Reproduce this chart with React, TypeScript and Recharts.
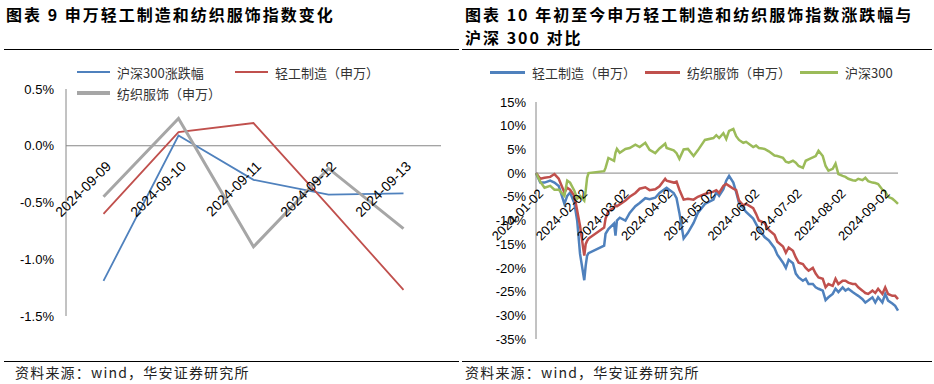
import { LineChart, Line, XAxis, YAxis, ReferenceLine } from 'recharts'

// 图表9：单周每日涨跌幅（%）
const weekDates = ['2024-09-09', '2024-09-10', '2024-09-11', '2024-09-12', '2024-09-13']
const weekHs300 = [-1.19, 0.09, -0.3, -0.43, -0.42]
const weekLight = [-0.6, 0.12, 0.2, -0.53, -1.27]
const weekTextile = [-0.45, 0.24, -0.89, -0.2, -0.73]
const weekYTicks = [-1.5, -1, -0.5, 0, 0.5]

// 图表10：年初至今累计涨跌幅（%）
const ytdDates = [
  '2024-01-02', '2024-01-05', '2024-01-08', '2024-01-12', '2024-01-15', '2024-01-18', '2024-01-22', '2024-01-24', '2024-01-26', '2024-01-29',
  '2024-01-31', '2024-02-02', '2024-02-05', '2024-02-06', '2024-02-07', '2024-02-08', '2024-02-19', '2024-02-20', '2024-02-22', '2024-02-26',
  '2024-02-27', '2024-02-28', '2024-03-01', '2024-03-05', '2024-03-08', '2024-03-12', '2024-03-15', '2024-03-19', '2024-03-22', '2024-03-26',
  '2024-03-29', '2024-04-02', '2024-04-03', '2024-04-08', '2024-04-10', '2024-04-12', '2024-04-15', '2024-04-18', '2024-04-22', '2024-04-25',
  '2024-04-30', '2024-05-06', '2024-05-08', '2024-05-10', '2024-05-13', '2024-05-15', '2024-05-17', '2024-05-20', '2024-05-22', '2024-05-24',
  '2024-05-27', '2024-05-29', '2024-06-03', '2024-06-05', '2024-06-07', '2024-06-11', '2024-06-14', '2024-06-18', '2024-06-20', '2024-06-24',
  '2024-06-26', '2024-06-28', '2024-07-01', '2024-07-03', '2024-07-05', '2024-07-08', '2024-07-10', '2024-07-12', '2024-07-15', '2024-07-17',
  '2024-07-19', '2024-07-22', '2024-07-24', '2024-07-26', '2024-07-29', '2024-07-31', '2024-08-02', '2024-08-05', '2024-08-07', '2024-08-09',
  '2024-08-12', '2024-08-14', '2024-08-16', '2024-08-19', '2024-08-21', '2024-08-23', '2024-08-26', '2024-08-28', '2024-08-30', '2024-09-02',
  '2024-09-04', '2024-09-06', '2024-09-09', '2024-09-11', '2024-09-13',
]
const ytdLight = [
  0, -2.0, -2.0, -1.6, -2.0, -2.7, -6.5, -4.8, -4.1, -6.3,
  -10.0, -17.0, -22.6, -19.5, -17.4, -16.9, -15.3, -12.8, -11.8, -10.6,
  -13.2, -10.0, -9.4, -10.0, -8.4, -7.0, -6.3, -5.3, -5.5, -5.2,
  -4.2, -3.3, -3.1, -4.2, -5.3, -8.4, -13.8, -12.6, -10.5, -8.4,
  -6.5, -5.6, -4.0, -4.8, -3.4, -1.6, -0.6, -2.0, -4.0, -6.3,
  -7.4, -8.2, -9.6, -10.7, -11.8, -13.5, -14.2, -15.8, -17.2, -18.9,
  -20.0, -18.3, -19.0, -21.2, -22.0, -22.7, -22.3, -23.4, -23.4, -24.1,
  -24.4, -24.8, -26.8, -26.2, -25.5, -24.4, -25.1, -24.1, -24.8, -24.4,
  -25.1, -25.5, -25.9, -26.6, -27.3, -26.9, -26.2, -27.3, -26.2, -27.3,
  -25.5, -26.9, -27.5, -28.0, -29.0,
]
const ytdTextile = [
  0, -1.2, -1.0, -0.8, -0.2, -1.2, -4.1, -3.1, -3.5, -4.8,
  -7.9, -11.1, -17.4, -15.0, -14.3, -13.8, -11.5, -9.6, -8.0, -7.3,
  -6.8, -7.0, -6.6, -5.8, -5.0, -4.2, -3.3, -3.0, -3.6, -3.4,
  -2.8, -1.2, -1.6, -2.0, -1.8, -3.5, -5.6, -5.4, -5.6, -5.0,
  -4.4, -3.9, -3.6, -4.2, -2.7, -2.3, -2.7, -3.3, -3.6, -5.8,
  -6.8, -6.5, -7.4, -8.6, -10.0, -10.5, -12.0, -13.0, -14.5, -15.5,
  -16.8, -15.7, -16.4, -17.8, -18.9, -19.2, -20.0, -20.6, -20.0, -21.2,
  -22.0, -22.3, -24.1, -23.4, -23.8, -22.3, -23.4, -22.7, -22.7, -23.1,
  -23.4, -23.4, -24.1, -24.8, -25.3, -25.5, -24.8, -25.3, -24.4, -25.5,
  -24.1, -25.5, -25.9, -25.9, -26.6,
]
const ytdHs300 = [
  0, -1.8, -3.1, -2.7, -3.5, -3.5, -4.8, -1.6, -2.0, -3.7,
  -5.4, -4.8, -5.8, -3.7, -1.0, 0.0, 0.4, 1.1, 3.2, 2.6,
  4.3, 5.1, 4.3, 5.1, 5.3, 6.0, 5.5, 6.4, 4.9, 4.2,
  5.2, 6.2, 5.3, 4.8, 4.2, 3.0, 5.0, 5.1, 3.6, 4.8,
  7.0, 7.4, 8.0, 7.4, 8.4, 7.2, 8.9, 9.3, 7.8, 7.0,
  6.4, 6.6, 5.5, 5.8, 5.3, 5.1, 4.6, 3.7, 3.6, 3.2,
  2.4, 2.2, 2.6, 2.2, 1.5, 1.1, 2.6, 2.9, 3.3, 3.6,
  4.7, 3.6, 1.5, 0.5, 0.9, 2.0, -0.2, -0.6, -0.8, -1.2,
  -1.5, -1.6, -1.2, -1.5, -1.0, -1.7, -2.0, -2.1, -2.3, -3.5,
  -3.9, -5.0, -5.4, -5.9, -6.5,
]
const ytdTickDates = [
  '2024-01-02', '2024-02-02', '2024-03-02', '2024-04-02', '2024-05-02',
  '2024-06-02', '2024-07-02', '2024-08-02', '2024-09-02',
]
const ytdEndDate = '2024-09-13'
const ytdYTicks = [-35, -30, -25, -20, -15, -10, -5, 0, 5, 10, 15]

const SANS = '"Liberation Sans", Arial, "Noto Sans CJK SC", sans-serif'
const CJK = '"Noto Sans CJK SC", "Liberation Sans", sans-serif'
const BLUE = '#4F81BD'
const RED = '#C0504D'
const GREEN = '#9BBB59'
const GRAY = '#A6A6A6'
const AXIS = '#868686'

const DAY = 86400000
const dayOf = (d: string) => (Date.parse(d) - Date.parse(ytdDates[0])) / DAY

const weekData = weekDates.map((date, i) => ({
  date,
  hs300: weekHs300[i],
  light: weekLight[i],
  textile: weekTextile[i],
}))

const ytdData = ytdDates.map((date, i) => ({
  day: dayOf(date),
  light: ytdLight[i],
  textile: ytdTextile[i],
  hs300: ytdHs300[i],
}))

const ytdTickLabel = new Map(ytdTickDates.map((d) => [dayOf(d), d]))

// 标签画在0轴下方（Excel 的“轴在0处交叉”）
function ZeroAxisTick(props: any) {
  const { x = 0, y = 0, payload, drop, format, size = 13.5 } = props
  return (
    <g transform={`translate(${x + 5},${y - drop + 18})`}>
      <text
        textAnchor="end"
        transform="rotate(-45)"
        dy="0.35em"
        fontSize={size}
        fill="#000"
        fontFamily={SANS}
      >
        {format(payload?.value)}
      </text>
    </g>
  )
}

type LegendItem = { label: string; color: string; width: number; x: number; y: number; len: number }

function LegendBox({ items }: { items: LegendItem[] }) {
  return (
    <>
      {items.map((it) => (
        <div
          key={it.label}
          style={{
            position: 'absolute',
            left: it.x,
            top: it.y - 10,
            height: 20,
            display: 'flex',
            alignItems: 'center',
            whiteSpace: 'nowrap',
          }}
        >
          <div style={{ width: it.len, height: it.width, background: it.color }} />
          <span style={{ marginLeft: 7, fontSize: 13, color: '#333', fontFamily: CJK }}>{it.label}</span>
        </div>
      ))}
    </>
  )
}

function Title({ x, y, text }: { x: number; y: number; text: string }) {
  return (
    <div
      style={{
        position: 'absolute',
        left: x,
        top: y - 11,
        height: 22,
        lineHeight: '22px',
        fontSize: 16,
        fontWeight: 700,
        letterSpacing: 2,
        color: '#000',
        fontFamily: CJK,
        whiteSpace: 'nowrap',
      }}
    >
      {text}
    </div>
  )
}

function Rule({ x1, x2, y }: { x1: number; x2: number; y: number }) {
  return (
    <div style={{ position: 'absolute', left: x1, top: y, width: x2 - x1, height: 1.5, background: '#000' }} />
  )
}

function Source({ x }: { x: number }) {
  return (
    <div
      style={{
        position: 'absolute',
        left: x,
        top: 362,
        height: 20,
        lineHeight: '20px',
        fontSize: 14,
        letterSpacing: 1.2,
        color: '#222',
        fontFamily: CJK,
        whiteSpace: 'nowrap',
      }}
    >
      资料来源：wind，华安证券研究所
    </div>
  )
}

// 左图尺寸
const W1 = 460
const H1 = 384
const M1 = { top: 89, right: 19, bottom: 38, left: 0 }
const XH1 = 30
const YW1 = 66
const Y1_MIN = -1.5
const Y1_MAX = 0.5
const drop1 = ((H1 - M1.top - M1.bottom - XH1) * (0 - Y1_MIN)) / (Y1_MAX - Y1_MIN)
// 类目居中：每侧留出半个类目宽
const pad1 = (W1 - M1.left - M1.right - YW1) / weekDates.length / 2

// 右图尺寸
const W2 = 474
const H2 = 384
const M2 = { top: 102, right: 36, bottom: 15, left: 0 }
const XH2 = 30
const Y2_MIN = -35
const Y2_MAX = 15
const drop2 = ((H2 - M2.top - M2.bottom - XH2) * (0 - Y2_MIN)) / (Y2_MAX - Y2_MIN)

function WeekChart() {
  return (
    <LineChart width={W1} height={H1} data={weekData} margin={M1}>
      <XAxis
        dataKey="date"
        height={XH1}
        padding={{ left: pad1, right: pad1 }}
        axisLine={false}
        tickLine={false}
        tickSize={0}
        tickMargin={0}
        interval={0}
        tick={(p: any) => <ZeroAxisTick {...p} drop={drop1} size={14} format={(v: string) => v} />}
      />
      <YAxis
        width={YW1}
        domain={[Y1_MIN, Y1_MAX]}
        ticks={weekYTicks}
        interval={0}
        axisLine={{ stroke: AXIS }}
        tickLine={false}
        tickMargin={6}
        tickFormatter={(v: number) => `${v.toFixed(1)}%`}
        tick={{ fontSize: 13, fill: '#000', fontFamily: SANS }}
      />
      <ReferenceLine y={0} stroke={AXIS} strokeWidth={1} />
      <Line dataKey="hs300" name="沪深300涨跌幅" stroke={BLUE} strokeWidth={1.8} dot={false} isAnimationActive={false} />
      <Line dataKey="light" name="轻工制造（申万）" stroke={RED} strokeWidth={1.8} dot={false} isAnimationActive={false} />
      <Line dataKey="textile" name="纺织服饰（申万）" stroke={GRAY} strokeWidth={3} dot={false} isAnimationActive={false} />
    </LineChart>
  )
}

function YtdChart() {
  return (
    <LineChart width={W2} height={H2} data={ytdData} margin={M2}>
      <XAxis
        dataKey="day"
        type="number"
        domain={[0, dayOf(ytdEndDate)]}
        ticks={ytdTickDates.map(dayOf)}
        height={XH2}
        axisLine={false}
        tickLine={false}
        tickSize={0}
        tickMargin={0}
        interval={0}
        tick={(p: any) => (
          <ZeroAxisTick {...p} drop={drop2} size={13} format={(v: number) => ytdTickLabel.get(v) ?? ''} />
        )}
      />
      <YAxis
        width={76}
        domain={[Y2_MIN, Y2_MAX]}
        ticks={ytdYTicks}
        interval={0}
        axisLine={{ stroke: AXIS }}
        tickLine={false}
        tickMargin={4}
        tickFormatter={(v: number) => `${v}%`}
        tick={{ fontSize: 13, fill: '#000', fontFamily: SANS }}
      />
      <ReferenceLine y={0} stroke={AXIS} strokeWidth={1} />
      <Line dataKey="light" name="轻工制造（申万）" stroke={BLUE} strokeWidth={2.5} dot={false} isAnimationActive={false} />
      <Line dataKey="textile" name="纺织服饰（申万）" stroke={RED} strokeWidth={2.5} dot={false} isAnimationActive={false} />
      <Line dataKey="hs300" name="沪深300" stroke={GREEN} strokeWidth={2.5} dot={false} isAnimationActive={false} />
    </LineChart>
  )
}

export default function App() {
  return (
    <div
      style={{
        position: 'absolute',
        left: 0,
        top: 0,
        width: 934,
        height: 384,
        background: '#fff',
        overflow: 'hidden',
      }}
    >
      <div style={{ position: 'absolute', left: 0, top: 0 }}>
        <WeekChart />
      </div>
      <div style={{ position: 'absolute', left: 460, top: 0 }}>
        <YtdChart />
      </div>

      <Title x={6} y={14} text="图表 9 申万轻工制造和纺织服饰指数变化" />
      <Title x={465} y={14} text="图表 10 年初至今申万轻工制造和纺织服饰指数涨跌幅与" />
      <Title x={465} y={37} text="沪深 300 对比" />
      <Rule x1={4} x2={459} y={48.5} />
      <Rule x1={462} x2={932} y={48.5} />
      <Rule x1={4} x2={459} y={360.5} />
      <Rule x1={462} x2={932} y={360.5} />
      <Source x={15} />
      <Source x={465} />

      <LegendBox
        items={[
          { label: '沪深300涨跌幅', color: BLUE, width: 2.5, x: 77, y: 72, len: 33 },
          { label: '轻工制造（申万）', color: RED, width: 2.5, x: 235, y: 72, len: 33 },
          { label: '纺织服饰（申万）', color: GRAY, width: 3.5, x: 77, y: 93, len: 33 },
        ]}
      />
      <LegendBox
        items={[
          { label: '轻工制造（申万）', color: BLUE, width: 3, x: 490, y: 72, len: 35 },
          { label: '纺织服饰（申万）', color: RED, width: 3, x: 645, y: 72, len: 35 },
          { label: '沪深300', color: GREEN, width: 3, x: 800, y: 72, len: 38 },
        ]}
      />
    </div>
  )
}
